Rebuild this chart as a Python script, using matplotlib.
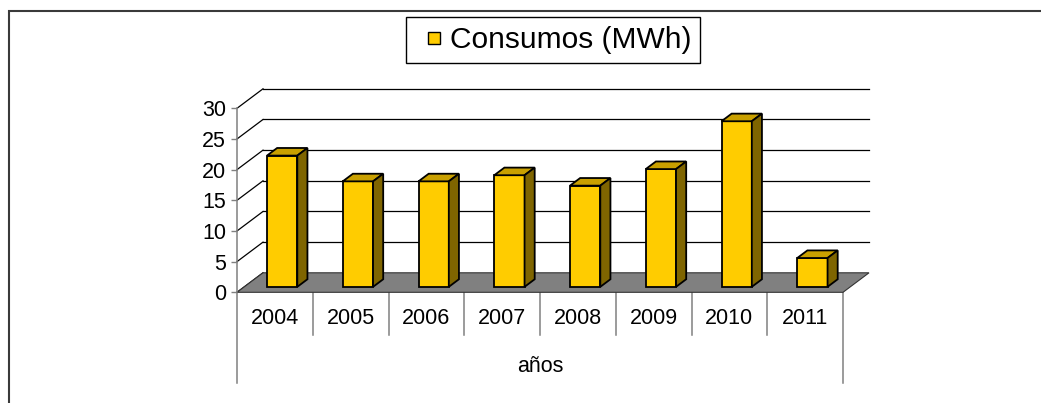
import matplotlib
matplotlib.use("Agg")
from matplotlib import pyplot as plt
from matplotlib.patches import Polygon, Rectangle
from matplotlib.lines import Line2D

plt.rcParams['font.family'] = ['Liberation Sans', 'DejaVu Sans']

# data
years = ['2004', '2005', '2006', '2007', '2008', '2009', '2010', '2011']
consumos = [21.4, 17.2, 17.2, 18.2, 16.5, 19.2, 27.0, 4.7]
y_ticks = [0, 5, 10, 15, 20, 25, 30]
series_name = 'Consumos (MWh)'
x_title = 'años'

front = '#FFCC00'
top_col = '#C9A000'
side_col = '#7F6500'
floor_col = '#808080'
axis_gray = '#808080'

# pixel scale of the reference: 75.75 px per category, 6.133 px per MWh
W, H = 1041, 403
px_x, px_y = 75.75, 6.133
x0_px, y0_px = 237, 292.3
DX = 26 / px_x          # depth offset in category units
DY = 19.5 / px_y        # depth offset in value units
f0, f1 = 0.28, 0.67     # bar front/back as fraction of depth
half = 0.2
n = len(years)

fig = plt.figure(figsize=(W / 100, H / 100), dpi=100)
left, right, bot, topp = 237, 905, 392, 60
ax = fig.add_axes([left / W, (H - bot) / H, (right - left) / W, (bot - topp) / H])
ax.set_xlim(0, (right - left) / px_x)
ax.set_ylim((y0_px - bot) / px_y, (y0_px - topp) / px_y)

# outer frame of the chart object
fig.patches.append(Rectangle((8.5 / W, -0.1), 1.2, 1.1 - 11 / H, transform=fig.transFigure,
                             fill=False, edgecolor='#3a3a3a', linewidth=1.5))

# back wall and side wall gridlines
for t in y_ticks:
    ax.plot([0, DX], [t, t + DY], color='black', lw=0.9, clip_on=False, zorder=1)
    if t > 0:
        ax.plot([DX, n + DX], [t + DY, t + DY], color='black', lw=0.9, clip_on=False, zorder=1)

# floor
ax.add_patch(Polygon([(0, 0), (n, 0), (n + DX, DY), (DX, DY)], closed=True,
                     facecolor=floor_col, edgecolor='#333333', lw=0.8, zorder=2, clip_on=False))

# 3d columns
dd = f1 - f0
for i, v in enumerate(consumos):
    xa = i + 0.5 - half + f0 * DX
    xb = i + 0.5 + half + f0 * DX
    yb = f0 * DY
    yt = v + f0 * DY
    kw = dict(closed=True, edgecolor='black', lw=1.3, zorder=3, clip_on=False)
    ax.add_patch(Polygon([(xa, yb), (xb, yb), (xb, yt), (xa, yt)], facecolor=front, **kw))
    ax.add_patch(Polygon([(xa, yt), (xb, yt), (xb + dd * DX, yt + dd * DY), (xa + dd * DX, yt + dd * DY)],
                         facecolor=top_col, **kw))
    ax.add_patch(Polygon([(xb, yb), (xb + dd * DX, yb + dd * DY), (xb + dd * DX, yt + dd * DY), (xb, yt)],
                         facecolor=side_col, **kw))

# category table below the floor
short_y = (y0_px - 335) / px_y
long_y = (y0_px - 383) / px_y
for k in range(n + 1):
    ax.plot([k, k], [0, long_y if k in (0, n) else short_y], color=axis_gray, lw=1.1, clip_on=False, zorder=1)
for i, yr in enumerate(years):
    ax.text(i + 0.5, (y0_px - 318) / px_y, yr, ha='center', va='center', fontsize=15.5)
ax.text(n / 2, (y0_px - 366) / px_y, x_title, ha='center', va='center', fontsize=15.5)

# value axis on the front left edge
for s in ['top', 'right', 'bottom']:
    ax.spines[s].set_visible(False)
ax.spines['left'].set_bounds(0, 30)
ax.spines['left'].set_color(axis_gray)
ax.spines['left'].set_linewidth(1.1)
ax.set_yticks(y_ticks)
ax.set_xticks([])
ax.tick_params(axis='y', direction='out', length=4.3, width=1, color=axis_gray, pad=3.5, labelsize=15.5)
ax.patch.set_visible(False)

handle = Line2D([], [], linestyle='none', marker='s', markersize=8.3, markerfacecolor=front,
                markeredgecolor='black', markeredgewidth=1)
fig.legend([handle], [series_name], loc='center', bbox_to_anchor=(553 / W, 1 - 40 / H),
           fontsize=21.5, frameon=True, fancybox=False, edgecolor='black', framealpha=1,
           borderpad=0.3, handlelength=1.3, handletextpad=-0.13, numpoints=1)

fig.savefig('out.png', dpi=100)
